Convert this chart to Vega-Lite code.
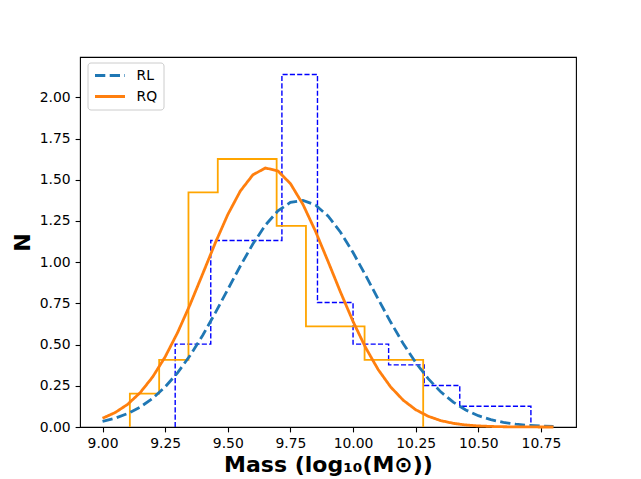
{
  "$schema": "https://vega.github.io/schema/vega-lite/v6.json",
  "width": 496,
  "height": 370,
  "autosize": {"type": "none"},
  "padding": {"left": 80, "top": 57, "right": 65, "bottom": 52},
  "background": "white",
  "datasets": {
    "hist": [
      {"sample": "RL", "edge": 9.29, "N": 0},
      {"sample": "RL", "edge": 9.29, "N": 0.503},
      {"sample": "RL", "edge": 9.432, "N": 1.132},
      {"sample": "RL", "edge": 9.574, "N": 1.132},
      {"sample": "RL", "edge": 9.716, "N": 2.139},
      {"sample": "RL", "edge": 9.858, "N": 0.755},
      {"sample": "RL", "edge": 10.0, "N": 0.503},
      {"sample": "RL", "edge": 10.142, "N": 0.377},
      {"sample": "RL", "edge": 10.284, "N": 0.252},
      {"sample": "RL", "edge": 10.426, "N": 0.126},
      {"sample": "RL", "edge": 10.568, "N": 0.126},
      {"sample": "RL", "edge": 10.71, "N": 0},
      {"sample": "RQ", "edge": 9.109, "N": 0},
      {"sample": "RQ", "edge": 9.109, "N": 0.203},
      {"sample": "RQ", "edge": 9.226, "N": 0.407},
      {"sample": "RQ", "edge": 9.343, "N": 1.423},
      {"sample": "RQ", "edge": 9.46, "N": 1.626},
      {"sample": "RQ", "edge": 9.577, "N": 1.626},
      {"sample": "RQ", "edge": 9.695, "N": 1.22},
      {"sample": "RQ", "edge": 9.812, "N": 0.61},
      {"sample": "RQ", "edge": 9.929, "N": 0.61},
      {"sample": "RQ", "edge": 10.046, "N": 0.407},
      {"sample": "RQ", "edge": 10.163, "N": 0.407},
      {"sample": "RQ", "edge": 10.28, "N": 0}
    ],
    "fit": [
      {"sample": "RL", "mass": 9.0, "N": 0.0337},
      {"sample": "RL", "mass": 9.05, "N": 0.0531},
      {"sample": "RL", "mass": 9.1, "N": 0.0812},
      {"sample": "RL", "mass": 9.15, "N": 0.1205},
      {"sample": "RL", "mass": 9.2, "N": 0.1737},
      {"sample": "RL", "mass": 9.25, "N": 0.243},
      {"sample": "RL", "mass": 9.3, "N": 0.3301},
      {"sample": "RL", "mass": 9.35, "N": 0.4352},
      {"sample": "RL", "mass": 9.4, "N": 0.557},
      {"sample": "RL", "mass": 9.45, "N": 0.692},
      {"sample": "RL", "mass": 9.5, "N": 0.8346},
      {"sample": "RL", "mass": 9.55, "N": 0.977},
      {"sample": "RL", "mass": 9.6, "N": 1.1103},
      {"sample": "RL", "mass": 9.65, "N": 1.2246},
      {"sample": "RL", "mass": 9.7, "N": 1.3113},
      {"sample": "RL", "mass": 9.75, "N": 1.3629},
      {"sample": "RL", "mass": 9.8, "N": 1.3752},
      {"sample": "RL", "mass": 9.85, "N": 1.3468},
      {"sample": "RL", "mass": 9.9, "N": 1.2805},
      {"sample": "RL", "mass": 9.95, "N": 1.1817},
      {"sample": "RL", "mass": 10.0, "N": 1.0587},
      {"sample": "RL", "mass": 10.05, "N": 0.9207},
      {"sample": "RL", "mass": 10.1, "N": 0.7772},
      {"sample": "RL", "mass": 10.15, "N": 0.6368},
      {"sample": "RL", "mass": 10.2, "N": 0.5065},
      {"sample": "RL", "mass": 10.25, "N": 0.3911},
      {"sample": "RL", "mass": 10.3, "N": 0.2931},
      {"sample": "RL", "mass": 10.35, "N": 0.2133},
      {"sample": "RL", "mass": 10.4, "N": 0.1507},
      {"sample": "RL", "mass": 10.45, "N": 0.1032},
      {"sample": "RL", "mass": 10.5, "N": 0.0687},
      {"sample": "RL", "mass": 10.55, "N": 0.0444},
      {"sample": "RL", "mass": 10.6, "N": 0.0278},
      {"sample": "RL", "mass": 10.65, "N": 0.0169},
      {"sample": "RL", "mass": 10.7, "N": 0.01},
      {"sample": "RL", "mass": 10.75, "N": 0.0058},
      {"sample": "RL", "mass": 10.8, "N": 0.0032},
      {"sample": "RQ", "mass": 9.0, "N": 0.0532},
      {"sample": "RQ", "mass": 9.05, "N": 0.0872},
      {"sample": "RQ", "mass": 9.1, "N": 0.1373},
      {"sample": "RQ", "mass": 9.15, "N": 0.2081},
      {"sample": "RQ", "mass": 9.2, "N": 0.3036},
      {"sample": "RQ", "mass": 9.25, "N": 0.4257},
      {"sample": "RQ", "mass": 9.3, "N": 0.5742},
      {"sample": "RQ", "mass": 9.35, "N": 0.7451},
      {"sample": "RQ", "mass": 9.4, "N": 0.93},
      {"sample": "RQ", "mass": 9.45, "N": 1.1164},
      {"sample": "RQ", "mass": 9.5, "N": 1.2891},
      {"sample": "RQ", "mass": 9.55, "N": 1.4318},
      {"sample": "RQ", "mass": 9.6, "N": 1.5296},
      {"sample": "RQ", "mass": 9.65, "N": 1.5718},
      {"sample": "RQ", "mass": 9.7, "N": 1.5535},
      {"sample": "RQ", "mass": 9.75, "N": 1.4769},
      {"sample": "RQ", "mass": 9.8, "N": 1.3506},
      {"sample": "RQ", "mass": 9.85, "N": 1.1879},
      {"sample": "RQ", "mass": 9.9, "N": 1.0052},
      {"sample": "RQ", "mass": 9.95, "N": 0.818},
      {"sample": "RQ", "mass": 10.0, "N": 0.6402},
      {"sample": "RQ", "mass": 10.05, "N": 0.482},
      {"sample": "RQ", "mass": 10.1, "N": 0.349},
      {"sample": "RQ", "mass": 10.15, "N": 0.2432},
      {"sample": "RQ", "mass": 10.2, "N": 0.163},
      {"sample": "RQ", "mass": 10.25, "N": 0.105},
      {"sample": "RQ", "mass": 10.3, "N": 0.0651},
      {"sample": "RQ", "mass": 10.35, "N": 0.0388},
      {"sample": "RQ", "mass": 10.4, "N": 0.0223},
      {"sample": "RQ", "mass": 10.45, "N": 0.0123},
      {"sample": "RQ", "mass": 10.5, "N": 0.0065},
      {"sample": "RQ", "mass": 10.55, "N": 0.0033},
      {"sample": "RQ", "mass": 10.6, "N": 0.0016},
      {"sample": "RQ", "mass": 10.65, "N": 0.0008},
      {"sample": "RQ", "mass": 10.7, "N": 0.0003},
      {"sample": "RQ", "mass": 10.75, "N": 0.0001},
      {"sample": "RQ", "mass": 10.8, "N": 0.0}
    ]
  },
  "layer": [
    {
      "data": {"name": "hist"},
      "transform": [{"filter": "datum.sample === 'RL'"}],
      "mark": {"type": "line", "interpolate": "step-after", "color": "#0000ff", "strokeWidth": 1.4, "strokeDash": [5.1, 2.2]},
      "encoding": {
        "x": {
          "field": "edge", "type": "quantitative",
          "scale": {"domain": [8.91, 10.89], "nice": false, "zero": false},
          "axis": {"title": "Mass (log₁₀(M⊙))", "values": [9, 9.25, 9.5, 9.75, 10, 10.25, 10.5, 10.75], "format": ".2f", "titlePadding": 4}
        },
        "y": {
          "field": "N", "type": "quantitative",
          "scale": {"domain": [0, 2.245], "nice": false},
          "axis": {"title": "N", "values": [0, 0.25, 0.5, 0.75, 1, 1.25, 1.5, 1.75, 2], "format": ".2f", "titlePadding": 5}
        },
        "order": {"value": null}
      }
    },
    {
      "data": {"name": "hist"},
      "transform": [{"filter": "datum.sample === 'RQ'"}],
      "mark": {"type": "line", "interpolate": "step-after", "color": "#ffa500", "strokeWidth": 1.8},
      "encoding": {
        "x": {"field": "edge", "type": "quantitative"},
        "y": {"field": "N", "type": "quantitative"},
        "order": {"value": null}
      }
    },
    {
      "data": {"name": "fit"},
      "mark": {"type": "line", "strokeWidth": 2.8},
      "encoding": {
        "x": {"field": "mass", "type": "quantitative"},
        "y": {"field": "N", "type": "quantitative"},
        "color": {
          "field": "sample", "type": "nominal",
          "scale": {"domain": ["RL", "RQ"], "range": ["#1f77b4", "#ff7f0e"]},
          "legend": {"title": null}
        },
        "strokeDash": {
          "field": "sample", "type": "nominal",
          "scale": {"domain": ["RL", "RQ"], "range": [[10.3, 4.4], [1, 0]]},
          "legend": {"title": null}
        }
      }
    }
  ],
  "config": {
    "view": {"stroke": "black", "strokeWidth": 1.1},
    "axis": {
      "grid": false,
      "domain": false,
      "labelFont": "DejaVu Sans",
      "labelFontSize": 13.9,
      "labelColor": "black",
      "tickColor": "black",
      "tickSize": 4.9,
      "tickWidth": 1.1,
      "labelPadding": 4.9,
      "titleFont": "DejaVu Sans",
      "titleFontSize": 22,
      "titleFontWeight": "bold",
      "titleColor": "black"
    },
    "legend": {
      "orient": "none",
      "legendX": 7.5,
      "legendY": 5.5,
      "padding": 6,
      "fillColor": "rgba(255,255,255,0.8)",
      "strokeColor": "#cccccc",
      "cornerRadius": 3,
      "symbolType": "stroke",
      "symbolSize": 900,
      "symbolStrokeWidth": 2.8,
      "labelFont": "DejaVu Sans",
      "labelFontSize": 13.9,
      "labelColor": "black",
      "labelOffset": 10,
      "clipHeight": 14,
      "rowPadding": 7
    }
  }
}
